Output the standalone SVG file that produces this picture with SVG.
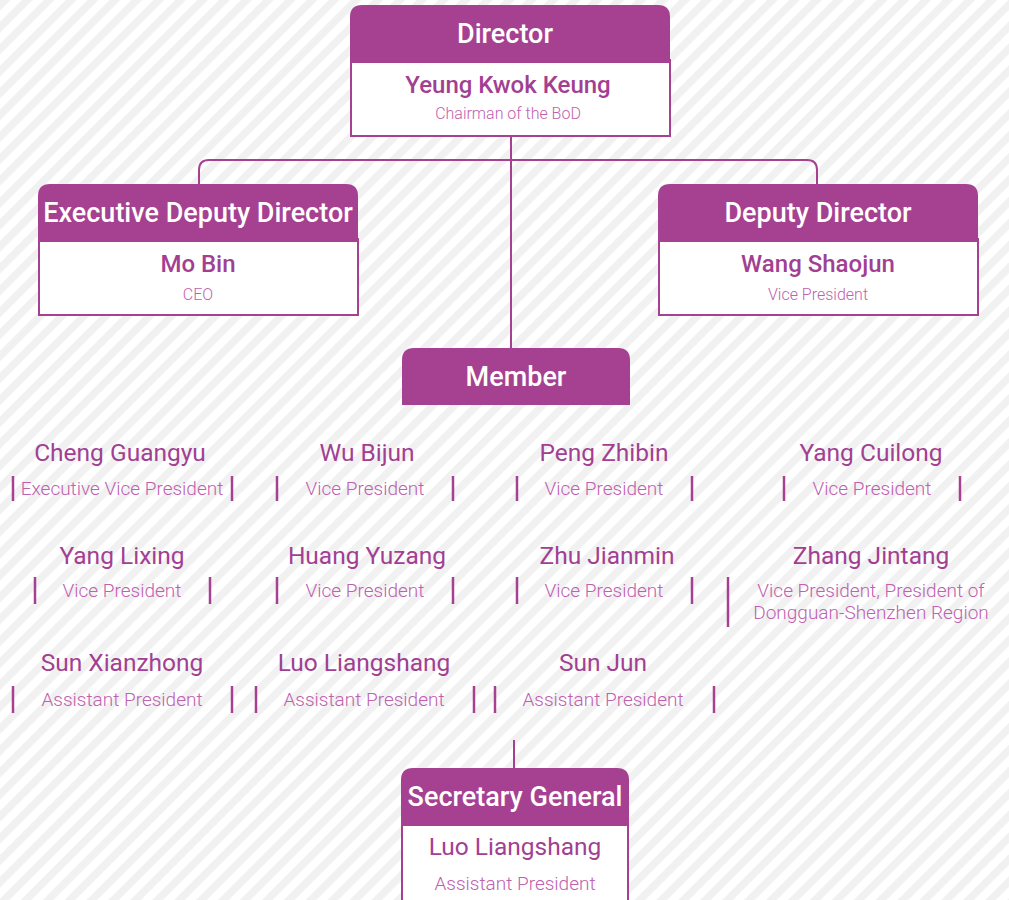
<svg xmlns="http://www.w3.org/2000/svg" width="1009" height="900" viewBox="0 0 1009 900">
<defs>
<pattern id="stripes" patternUnits="userSpaceOnUse" width="15.5" height="15.5" patternTransform="rotate(45)">
<rect x="0" y="0" width="15.5" height="15.5" fill="#ffffff"/>
<rect x="0" y="0" width="7.5" height="15.5" fill="#f1f1f1"/>
</pattern>
</defs>
<style>
.hdr{fill:#a64191}
.body{fill:#ffffff;stroke:#a64191;stroke-width:2}
.ht{font-family:Roboto,"Liberation Sans",sans-serif;font-size:27px;font-weight:500;fill:#ffffff;text-anchor:middle}
.bn{font-family:Roboto,"Liberation Sans",sans-serif;font-size:24px;font-weight:500;fill:#a23f93;text-anchor:middle}
.bs{font-family:Roboto,"Liberation Sans",sans-serif;font-size:16px;font-weight:300;fill:#c060b0;text-anchor:middle}
.mn{font-family:Roboto,"Liberation Sans",sans-serif;font-size:24.5px;font-weight:400;fill:#a23f93;text-anchor:middle}
.mt{font-family:Roboto,"Liberation Sans",sans-serif;font-size:19px;font-weight:300;fill:#c060b0;text-anchor:middle}
.bar{stroke:#a64191;stroke-width:2.5}
.con{fill:none;stroke:#a64191;stroke-width:2}
</style>
<rect x="0" y="0" width="1009" height="900" fill="url(#stripes)"/>
<g id="connectors">
<path class="con" d="M511 136 V348"/>
<path class="con" d="M199 184 V170 Q199 160 209 160 H807 Q817 160 817 170 V184"/>
<path class="con" d="M514 740 V768"/>
</g>
<g id="director">
<rect class="body" x="351" y="60" width="319" height="76"/>
<path class="hdr" d="M350 63 V17 Q350 5 362 5 H658 Q670 5 670 17 V63 Z"/>
<text class="ht" x="505" y="43">Director</text>
<text class="bn" x="508" y="93">Yeung Kwok Keung</text>
<text class="bs" x="508" y="119">Chairman of the BoD</text>
</g>
<g id="exec-deputy-director">
<rect class="body" x="39" y="239" width="319" height="76"/>
<path class="hdr" d="M38 242 V196 Q38 184 50 184 H346 Q358 184 358 196 V242 Z"/>
<text class="ht" x="198" y="222">Executive Deputy Director</text>
<text class="bn" x="198" y="272">Mo Bin</text>
<text class="bs" x="198" y="300">CEO</text>
</g>
<g id="deputy-director">
<rect class="body" x="659" y="239" width="319" height="76"/>
<path class="hdr" d="M658 242 V196 Q658 184 670 184 H966 Q978 184 978 196 V242 Z"/>
<text class="ht" x="818" y="222">Deputy Director</text>
<text class="bn" x="818" y="272">Wang Shaojun</text>
<text class="bs" x="818" y="300">Vice President</text>
</g>
<g id="member">
<path class="hdr" d="M402 405 V360 Q402 348 414 348 H618 Q630 348 630 360 V405 Z"/>
<text class="ht" x="516" y="386">Member</text>
</g>
<g id="cheng-guangyu">
<text class="mn" x="120" y="461">Cheng Guangyu</text>
<text class="mt" x="122" y="495">Executive Vice President</text>
<line class="bar" x1="13" y1="476" x2="13" y2="501"/><line class="bar" x1="232" y1="476" x2="232" y2="501"/>
</g>
<g id="wu-bijun">
<text class="mn" x="367" y="461">Wu Bijun</text>
<text class="mt" x="365" y="495">Vice President</text>
<line class="bar" x1="277" y1="476" x2="277" y2="501"/><line class="bar" x1="453" y1="476" x2="453" y2="501"/>
</g>
<g id="peng-zhibin">
<text class="mn" x="604" y="461">Peng Zhibin</text>
<text class="mt" x="604" y="495">Vice President</text>
<line class="bar" x1="517" y1="476" x2="517" y2="501"/><line class="bar" x1="692" y1="476" x2="692" y2="501"/>
</g>
<g id="yang-cuilong">
<text class="mn" x="871" y="461">Yang Cuilong</text>
<text class="mt" x="872" y="495">Vice President</text>
<line class="bar" x1="784" y1="476" x2="784" y2="501"/><line class="bar" x1="960" y1="476" x2="960" y2="501"/>
</g>
<g id="yang-lixing">
<text class="mn" x="122" y="564">Yang Lixing</text>
<text class="mt" x="122" y="597">Vice President</text>
<line class="bar" x1="35" y1="577" x2="35" y2="604"/><line class="bar" x1="210" y1="577" x2="210" y2="604"/>
</g>
<g id="huang-yuzang">
<text class="mn" x="367" y="564">Huang Yuzang</text>
<text class="mt" x="365" y="597">Vice President</text>
<line class="bar" x1="277" y1="577" x2="277" y2="604"/><line class="bar" x1="453" y1="577" x2="453" y2="604"/>
</g>
<g id="zhu-jianmin">
<text class="mn" x="607" y="564">Zhu Jianmin</text>
<text class="mt" x="604" y="597">Vice President</text>
<line class="bar" x1="517" y1="577" x2="517" y2="604"/><line class="bar" x1="692" y1="577" x2="692" y2="604"/>
</g>
<g id="zhang-jintang">
<text class="mn" x="871" y="564">Zhang Jintang</text>
<text class="mt" x="871" y="597">Vice President, President of</text>
<text class="mt" x="871" y="619">Dongguan-Shenzhen Region</text>
<line class="bar" x1="728" y1="577" x2="728" y2="627"/>
</g>
<g id="sun-xianzhong">
<text class="mn" x="122" y="671">Sun Xianzhong</text>
<text class="mt" x="122" y="706">Assistant President</text>
<line class="bar" x1="13" y1="686" x2="13" y2="713"/><line class="bar" x1="232" y1="686" x2="232" y2="713"/>
</g>
<g id="luo-liangshang">
<text class="mn" x="364" y="671">Luo Liangshang</text>
<text class="mt" x="364" y="706">Assistant President</text>
<line class="bar" x1="256" y1="686" x2="256" y2="713"/><line class="bar" x1="474" y1="686" x2="474" y2="713"/>
</g>
<g id="sun-jun">
<text class="mn" x="603" y="671">Sun Jun</text>
<text class="mt" x="603" y="706">Assistant President</text>
<line class="bar" x1="495" y1="686" x2="495" y2="713"/><line class="bar" x1="714" y1="686" x2="714" y2="713"/>
</g>
<g id="secretary-general">
<rect class="body" x="402" y="823" width="226" height="90"/>
<path class="hdr" d="M401 826 V780 Q401 768 413 768 H617 Q629 768 629 780 V826 Z"/>
<text class="ht" x="515" y="806">Secretary General</text>
<text class="mn" x="515" y="855">Luo Liangshang</text>
<text class="mt" x="515" y="890">Assistant President</text>
</g>
</svg>
